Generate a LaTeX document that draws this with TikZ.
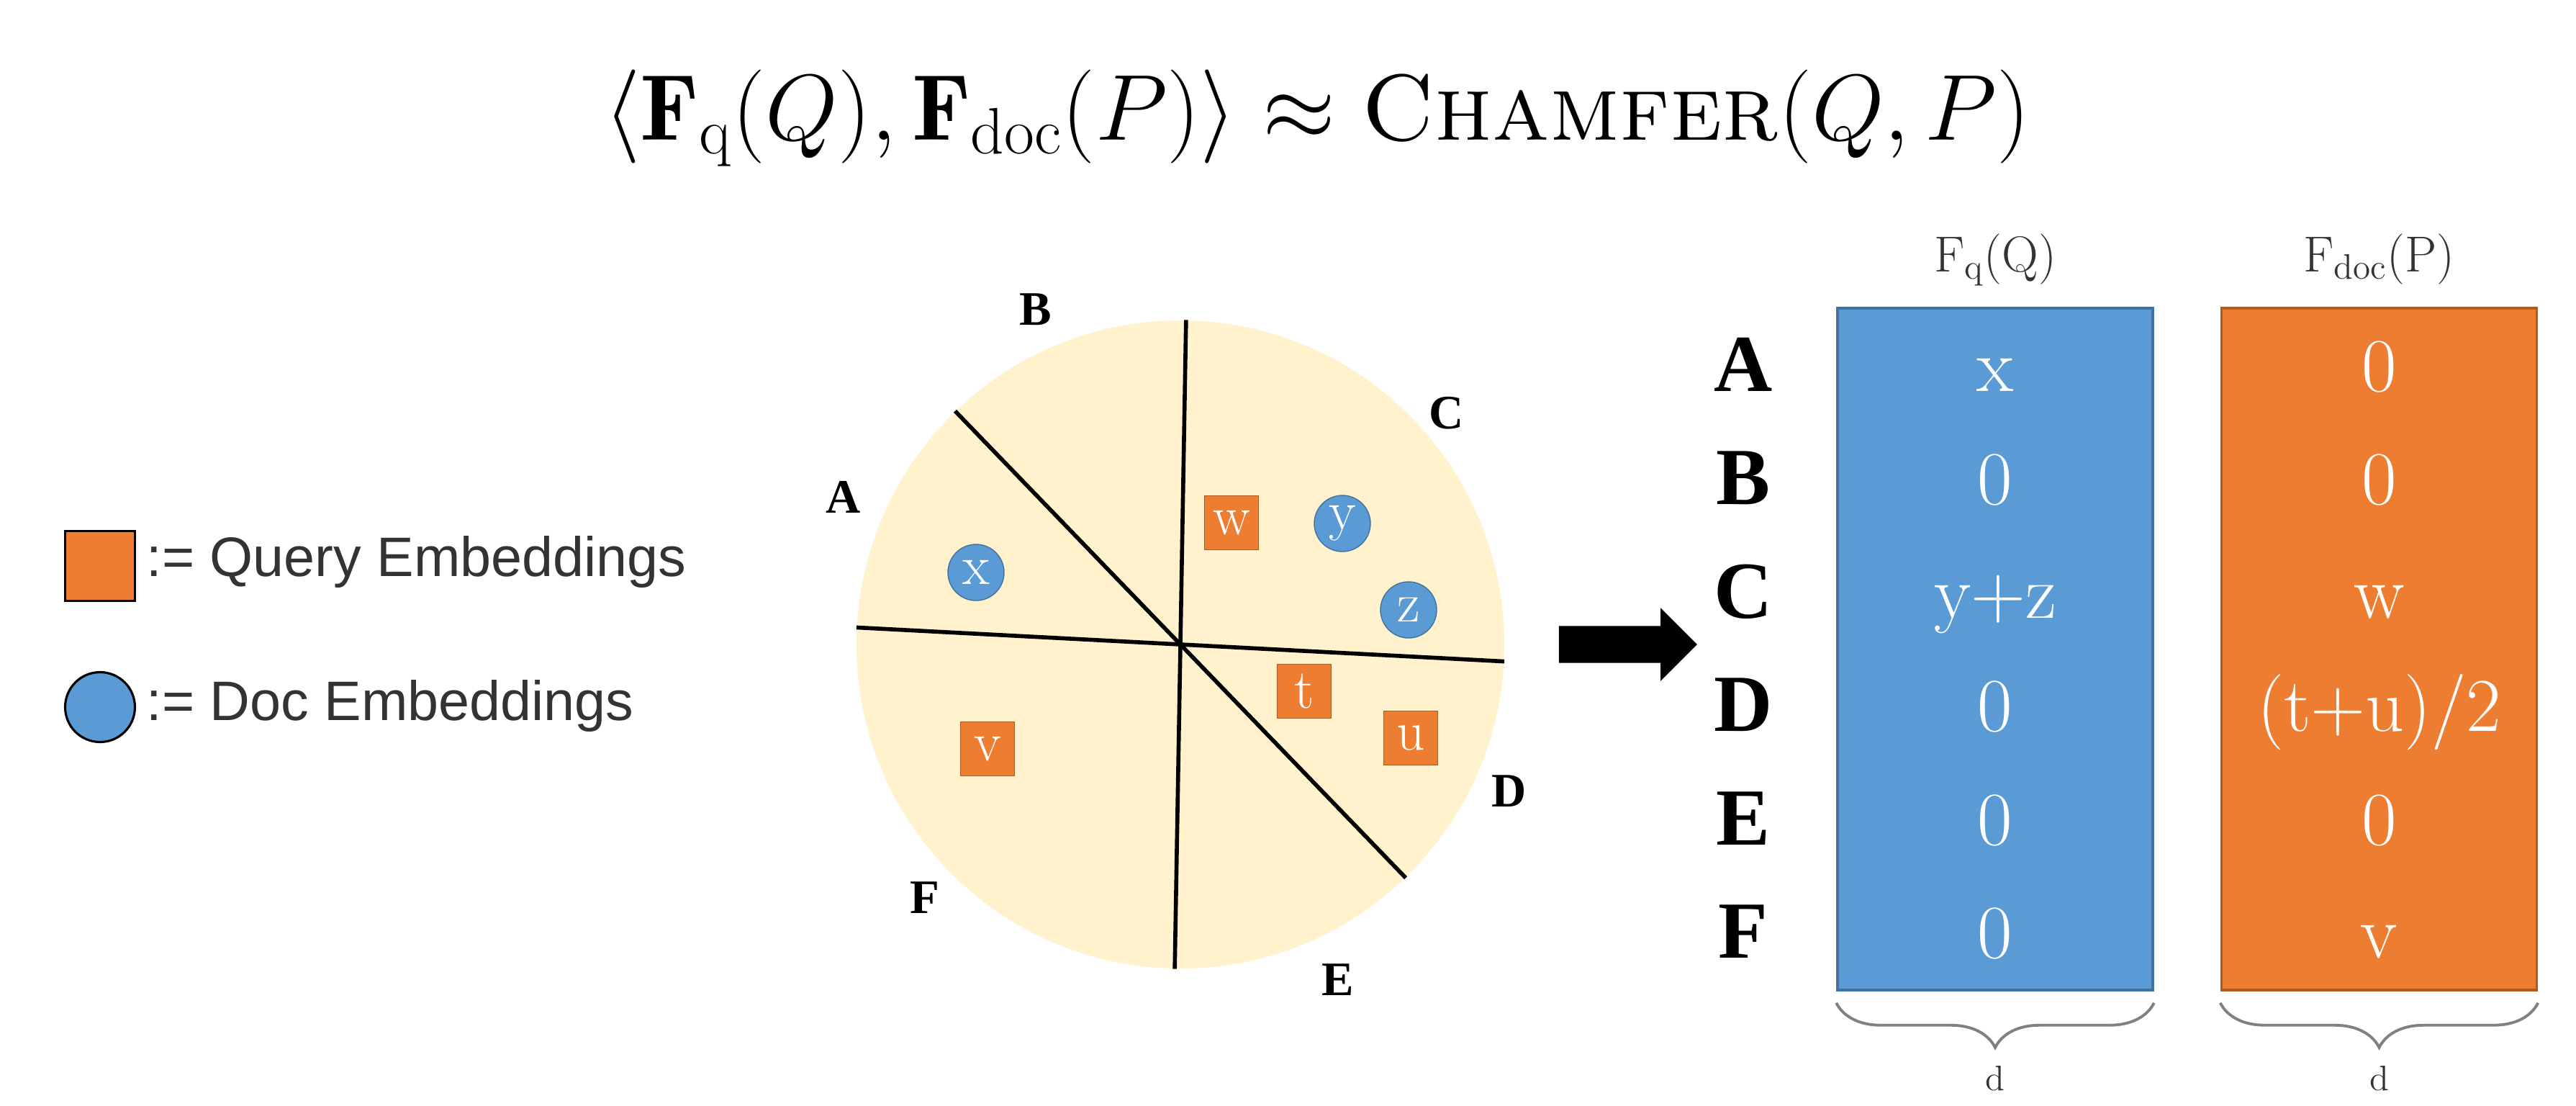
\RequirePackage{fix-cm}
\documentclass[tikz,border=0pt]{standalone}
\usepackage{fontspec}
\usepackage{tikz}
\usetikzlibrary{shapes.arrows, decorations.pathreplacing, positioning, calc}
\newfontfamily\legendfont{Liberation Sans}
\newfontfamily\boldserif{Liberation Serif}
\definecolor{docblue}{RGB}{91, 155, 213}
\definecolor{docbluedark}{RGB}{65, 113, 156}
\definecolor{queryorange}{RGB}{237, 125, 49}
\definecolor{queryorangedark}{RGB}{174, 90, 33}
\definecolor{regioncream}{RGB}{255, 242, 204}
\definecolor{textgray}{RGB}{51, 51, 51}

\tikzset{
    querytok/.style={draw=queryorangedark, fill=queryorange, minimum size=0.75cm, inner sep=0pt,
                     text=white, font=\fontsize{22}{22}\selectfont},
    doctok/.style={circle, draw=docbluedark, fill=docblue, minimum size=0.78cm, inner sep=0pt,
                   text=white, font=\fontsize{22}{22}\selectfont},
    regionlabel/.style={font=\boldserif\bfseries\fontsize{19}{19}\selectfont},
    rowlabel/.style={anchor=base, font=\boldserif\bfseries\fontsize{32}{32}\selectfont},
    cellval/.style={anchor=base, text=white, font=\fontsize{30}{30}\selectfont},
    colhead/.style={anchor=base, text=textgray, font=\fontsize{20}{20}\selectfont},
    legendtext/.style={anchor=base west, inner sep=0pt, text=textgray, font=\legendfont\fontsize{22}{22}\selectfont},
    dimbrace/.style={decorate, decoration={brace, mirror, amplitude=0.62cm}, draw=gray, line width=1.1pt},
}

\begin{document}
\begin{tikzpicture}
    \useasboundingbox (0,0) rectangle (35.79,-15.35);

    % title
    \node[anchor=base, font=\fontsize{37}{40}\selectfont] (title) at (18.3,-1.94)
        {$\langle \mathbf{F}_{\mathrm{q}}(Q), \mathbf{F}_{\mathrm{doc}}(P)\rangle \approx \textsc{Chamfer}(Q, P)$};

    % legend
    \node[draw=black, line width=0.9pt, fill=queryorange, minimum size=0.97cm, inner sep=0pt] (legq) at (1.39,-7.86) {};
    \node[legendtext] (legqtext) at (2.03,-8.0) {:= Query Embeddings};
    \node[circle, draw=black, line width=0.9pt, fill=docblue, minimum size=0.97cm, inner sep=0pt] (legd) at (1.39,-9.82) {};
    \node[legendtext] (legdtext) at (2.03,-10.0) {:= Doc Embeddings};

    % partitioned space
    \node[circle, fill=regioncream, minimum size=9cm, inner sep=0pt] (disk) at (16.40,-8.95) {};
    \foreach \a/\b in {89.4/269.4, 357.8/177.8, 134.5/314.5}
        \draw[line width=1.6pt] (disk.\a) -- (disk.\b);
    \foreach \n/\x/\y in {A/11.72/-6.90, B/14.39/-4.30, C/20.10/-5.74, D/20.97/-10.99, E/18.59/-13.61, F/12.85/-12.47}
        \node[regionlabel] (region\n) at (\x,\y) {\n};

    \node[doctok] (x) at (13.56,-7.95) {x};
    \node[doctok] (y) at (18.65,-7.27) {y};
    \node[doctok] (z) at (19.57,-8.47) {z};
    \node[querytok] (w) at (17.11,-7.26) {w};
    \node[querytok] (t) at (18.12,-9.60) {t};
    \node[querytok] (u) at (19.60,-10.25) {u};
    \node[querytok] (v) at (13.72,-10.40) {v};

    \node[single arrow, fill=black, inner xsep=0pt, inner ysep=0.25cm, minimum height=1.92cm,
          single arrow head extend=0.25cm, single arrow tip angle=90] (mapto) at (22.49,-8.95) {};

    % sketches
    \node[draw=docbluedark, fill=docblue, line width=1pt, minimum width=4.38cm, minimum height=9.47cm, inner sep=0pt] (fq) at (27.72,-9.015) {};
    \node[draw=queryorangedark, fill=queryorange, line width=1pt, minimum width=4.38cm, minimum height=9.47cm, inner sep=0pt] (fdoc) at (33.055,-9.015) {};
    \node[colhead] (fqhead) at (27.72,-3.77) {F$_\mathrm{q}$(Q)};
    \node[colhead] (fdochead) at (33.055,-3.77) {F$_\mathrm{doc}$(P)};

    \foreach \r/\a/\b [count=\i from 0] in {A/x/0, B/0/0, C/y+z/w, D/0/{(t+u)/2}, E/0/0, F/0/v} {
        \node[rowlabel] (row\r) at (24.22,{-5.43-1.575*\i}) {\r};
        \node[cellval] (q\r) at (27.72,{-5.43-1.575*\i}) {\a};
        \node[cellval] (d\r) at (33.055,{-5.43-1.575*\i}) {\b};
    }

    \draw[dimbrace] ([yshift=-0.16cm]fq.south west) -- ([yshift=-0.16cm]fq.south east)
        node[midway, anchor=base, yshift=-1.22cm, text=textgray, font=\fontsize{14}{14}\selectfont] (fqdim) {d};
    \draw[dimbrace] ([yshift=-0.16cm]fdoc.south west) -- ([yshift=-0.16cm]fdoc.south east)
        node[midway, anchor=base, yshift=-1.22cm, text=textgray, font=\fontsize{14}{14}\selectfont] (fdocdim) {d};
\end{tikzpicture}
\end{document}
